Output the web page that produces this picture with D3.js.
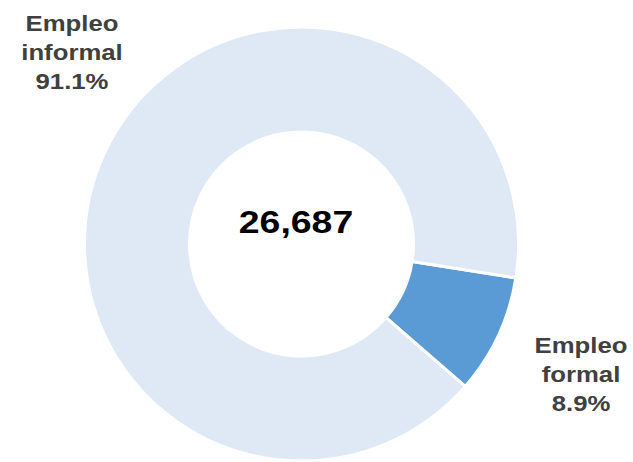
<!DOCTYPE html>
<html>
<head>
<meta charset="utf-8">
<script src="https://cdn.jsdelivr.net/npm/d3@7"></script>
<style>
  body { margin: 0; background: #fff; }
  svg { display: block; }
  .lbl { font-family: "Liberation Sans", Arial, sans-serif; font-weight: bold; fill: #404040; }
</style>
</head>
<body>
<div id="chart"></div>
<script>
// data
var categories = ["Empleo formal", "Empleo informal"];
var shares = [8.9, 91.1];
var total = 26687;
var colors = ["#5B9BD5", "#DEE9F5"];

var width = 633, height = 462;
var cx = 301.5, cy = 244;
var outerR = 217, innerR = 112;
var stretch = 1.17; // the original text is drawn a little wide

var svg = d3.select("#chart").append("svg")
    .attr("width", width)
    .attr("height", height);

var g = svg.append("g").attr("transform", "translate(" + cx + "," + cy + ")");

// formal slice starts a bit below 3 o'clock
var start = 99 * Math.PI / 180;
var pie = d3.pie().sort(null)
    .startAngle(start)
    .endAngle(start + 2 * Math.PI);

var arc = d3.arc().innerRadius(innerR).outerRadius(outerR);

g.selectAll("path")
    .data(pie(shares))
    .enter()
    .append("path")
    .attr("d", arc)
    .style("fill", function(d, i) { return colors[i]; })
    .style("stroke", "#fff")
    .style("stroke-width", 3);

// center total
svg.append("text")
    .attr("class", "lbl")
    .attr("transform", "translate(296,233) scale(" + stretch + ",1)")
    .attr("text-anchor", "middle")
    .style("fill", "#000")
    .style("font-size", "32px")
    .text(d3.format(",")(total));

// labels
var labelPos = [[581, 353], [72, 31]];
categories.forEach(function(c, i) {
    var words = c.split(" ");
    var lines = [words[0], words[1], d3.format(".1f")(shares[i]) + "%"];
    var t = svg.append("text")
        .attr("class", "lbl")
        .attr("transform", "translate(" + labelPos[i][0] + "," + labelPos[i][1] + ") scale(" + stretch + ",1)")
        .attr("text-anchor", "middle")
        .style("font-size", "22px");
    lines.forEach(function(l, k) {
        t.append("tspan")
            .attr("x", 0)
            .attr("y", k * 29)
            .text(l);
    });
});
</script>
</body>
</html>
